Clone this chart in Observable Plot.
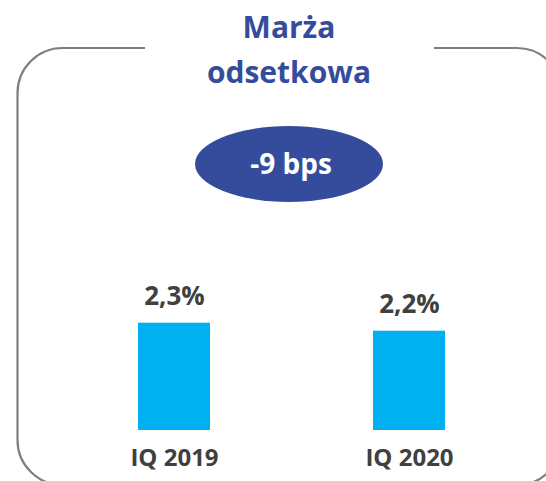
<!DOCTYPE html>
<html>
<head>
<meta charset="utf-8">
<script src="https://cdn.jsdelivr.net/npm/d3@7"></script>
<script src="https://cdn.jsdelivr.net/npm/@observablehq/plot@0.6"></script>
<style>
  html, body { margin: 0; padding: 0; background: #fff; }
</style>
</head>
<body>
<div id="chart"></div>
<script>
const categories = ["IQ 2019", "IQ 2020"];
const values = [2.3, 2.2];
const valueLabels = ["2,3%", "2,2%"];
const titleLines = ["Marża", "odsetkowa"];
const changeLabel = "-9 bps";

const data = categories.map((c, i) => ({category: c, value: values[i], label: valueLabels[i]}));

const W = 546, H = 481;
const navy = "#354C9C";
const barColor = "#00B0F0";
const textGrey = "#404040";
const yMin = 0.96;

const decor = () => {
  const g = d3.create("svg:g");
  // rounded frame with gap at top for title
  const x0 = 17.5, y0 = 48, x1 = 562, y1 = 485, r = 45;
  const gapL = 145, gapR = 434;
  const path = d3.path();
  path.moveTo(gapL, y0);
  path.lineTo(x0 + r, y0);
  path.arcTo(x0, y0, x0, y0 + r, r);
  path.lineTo(x0, y1 - r);
  path.arcTo(x0, y1, x0 + r, y1, r);
  path.lineTo(x1 - r, y1);
  path.arcTo(x1, y1, x1, y1 - r, r);
  path.lineTo(x1, y0 + r);
  path.arcTo(x1, y0, x1 - r, y0, r);
  path.lineTo(gapR, y0);
  g.append("path").attr("d", path.toString())
    .attr("fill", "none").attr("stroke", "#7f7f7f").attr("stroke-width", 2.2);
  // title
  const t = g.append("text").attr("text-anchor", "middle")
    .attr("fill", navy).attr("font-size", 30).attr("font-weight", "bold")
    .attr("font-family", "'Open Sans', sans-serif");
  t.append("tspan").attr("x", 289).attr("y", 38).text(titleLines[0]);
  t.append("tspan").attr("x", 289).attr("y", 83).text(titleLines[1]);
  // ellipse badge
  g.append("ellipse").attr("cx", 289).attr("cy", 164).attr("rx", 94).attr("ry", 38).attr("fill", navy);
  g.append("text").attr("x", 291).attr("y", 174).attr("text-anchor", "middle")
    .attr("fill", "#fff").attr("font-size", 28).attr("font-weight", "bold")
    .attr("font-family", "'Open Sans', sans-serif").text(changeLabel);
  return g.node();
};

const chart = Plot.plot({
  width: W,
  height: H,
  marginTop: 0,
  marginBottom: 51,
  marginLeft: 0,
  marginRight: 0,
  style: {fontFamily: "'Open Sans', sans-serif", background: "#fff", overflow: "visible"},
  x: {domain: categories, range: [137, 445], paddingInner: 0.694, paddingOuter: 0},
  y: {domain: [yMin, 2.3], range: [430, 322.7], axis: null},
  marks: [
    decor,
    Plot.barY(data, {x: "category", y1: () => yMin, y2: "value", fill: barColor}),
    Plot.text(data, {x: "category", y: "value", text: "label", dy: -26.5, fontSize: 26, fontWeight: "bold", fill: textGrey}),
    Plot.axisX({tickSize: 0, tickPadding: 18, fontSize: 24, fontWeight: "bold", color: textGrey, label: null})
  ]
});
document.getElementById("chart").appendChild(chart);
</script>
</body>
</html>
